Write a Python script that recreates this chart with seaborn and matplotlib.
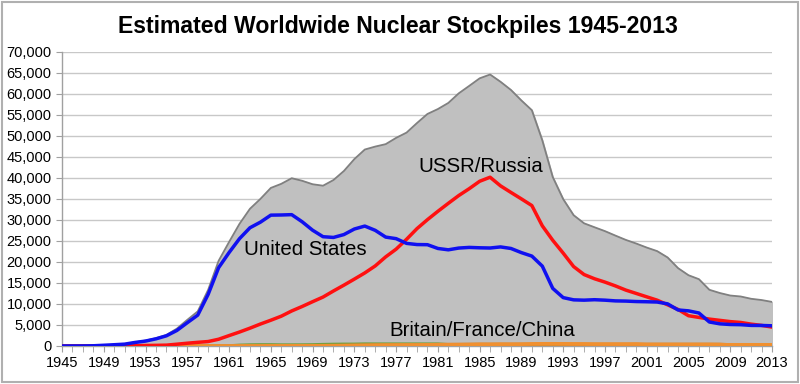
import pandas as pd
import matplotlib
matplotlib.use("Agg")
import matplotlib.pyplot as plt
from matplotlib.ticker import FuncFormatter, MultipleLocator
from matplotlib.patches import Rectangle
import seaborn as sns

# 연도 1945-2013
years = list(range(1945, 2014))

us = [2, 9, 13, 50, 170, 299, 438, 841, 1169, 1703,
      2422, 3692, 5543, 7345, 12298, 18638, 22229, 25540, 28133, 29463,
      31139, 31175, 31255, 29561, 27552, 26008, 25830, 26516, 27835, 28537,
      27519, 25914, 25542, 24418, 24138, 24104, 23208, 22886, 23305, 23459,
      23368, 23317, 23575, 23205, 22217, 21392, 19008, 13708, 11511, 10979,
      10904, 11011, 10903, 10732, 10685, 10577, 10526, 10457, 10027, 8570,
      8360, 7853, 5709, 5273, 5113, 5066, 4897, 4881, 4804]

ussr = [0, 0, 0, 0, 1, 5, 25, 50, 120, 150,
        200, 426, 660, 869, 1060, 1605, 2471, 3322, 4238, 5221,
        6129, 7089, 8339, 9399, 10538, 11643, 13092, 14478, 15915, 17385,
        19055, 21205, 23044, 25393, 27935, 30062, 32049, 33952, 35804, 37431,
        39197, 40159, 38107, 36538, 35000, 33417, 28595, 25155, 22101, 18900,
        17000, 16000, 15200, 14300, 13300, 12500, 11700, 10900, 9800, 8700,
        7200, 6800, 6400, 6100, 5800, 5600, 5200, 4900, 4500]

uk = [0, 0, 0, 0, 0, 0, 0, 0, 1, 5,
      10, 15, 20, 22, 25, 30, 50, 205, 280, 310,
      310, 270, 270, 280, 308, 375, 420, 450, 450, 500,
      492, 492, 492, 492, 492, 492, 492, 335, 320, 270,
      300, 300, 300, 300, 300, 300, 300, 300, 300, 250,
      300, 300, 280, 281, 281, 281, 280, 280, 280, 280,
      280, 225, 225, 225, 225, 225, 225, 225, 225]

france = [0, 0, 0, 0, 0, 0, 0, 0, 0, 0,
          0, 0, 0, 0, 0, 0, 0, 0, 0, 4,
          32, 36, 36, 36, 36, 36, 45, 70, 116, 145,
          188, 212, 228, 235, 235, 250, 274, 274, 279, 280,
          360, 355, 420, 410, 410, 505, 540, 540, 525, 510,
          500, 450, 450, 450, 450, 470, 350, 350, 350, 350,
          350, 350, 350, 300, 300, 300, 300, 300, 300]

china = [0, 0, 0, 0, 0, 0, 0, 0, 0, 0,
         0, 0, 0, 0, 0, 0, 0, 0, 0, 1,
         5, 20, 25, 35, 50, 75, 100, 130, 150, 170,
         185, 190, 200, 220, 235, 280, 330, 360, 380, 414,
         426, 423, 415, 411, 433, 430, 435, 435, 435, 400,
         400, 400, 400, 400, 400, 400, 400, 400, 400, 400,
         400, 400, 400, 400, 240, 240, 240, 240, 250]

# 이스라엘/인도/파키스탄/북한 (회색 영역에만 포함)
others = [0, 0, 0, 0, 0, 0, 0, 0, 0, 0,
          0, 0, 0, 0, 0, 0, 0, 0, 0, 0,
          0, 0, 2, 4, 6, 8, 10, 12, 14, 16,
          18, 20, 22, 25, 28, 31, 34, 37, 40, 44,
          48, 52, 56, 60, 63, 66, 70, 75, 80, 85,
          90, 95, 100, 110, 130, 150, 170, 190, 210, 230,
          250, 270, 290, 310, 330, 350, 370, 390, 410]

df = pd.DataFrame({"year": years, "us": us, "ussr": ussr, "uk": uk,
                   "france": france, "china": china, "others": others})
df["total"] = df[["us", "ussr", "uk", "france", "china", "others"]].sum(axis=1)

sns.set_style("white")
plt.rcParams["font.family"] = ["Liberation Sans", "DejaVu Sans"]
plt.rcParams["text.color"] = "black"
plt.rcParams["xtick.color"] = "black"
plt.rcParams["ytick.color"] = "black"

fig = plt.figure(figsize=(8, 3.84), dpi=100)
ax = fig.add_axes([0.0775, 0.099, 0.8875, 0.766])

# 그리드
for v in range(5000, 70001, 5000):
    ax.axhline(v, color="#c8c8c8", lw=1.0, zorder=0)

ax.fill_between(df["year"], df["total"], color="#c0c0c0", zorder=1)
sns.lineplot(data=df, x="year", y="total", color="#808080", lw=1.3, ax=ax, zorder=2)
sns.lineplot(data=df, x="year", y="uk", color="#70a040", lw=2.2, ax=ax, zorder=3)
sns.lineplot(data=df, x="year", y="china", color="#e08a30", lw=2.5, ax=ax, zorder=3)
sns.lineplot(data=df, x="year", y="france", color="#f09030", lw=2.5, ax=ax, zorder=3)
sns.lineplot(data=df, x="year", y="ussr", color="#ff1010", lw=2.5, ax=ax, zorder=4)
sns.lineplot(data=df, x="year", y="us", color="#1010f0", lw=2.5, ax=ax, zorder=5)

ax.text(1962.4, 22900, "United States", fontsize=14.7, va="center", ha="left", zorder=6)
ax.text(1979.1, 42600, "USSR/Russia", fontsize=14.7, va="center", ha="left", zorder=6)
ax.text(1976.4, 3800, "Britain/France/China", fontsize=14.7, va="center", ha="left", zorder=6)

ax.set_xlim(1945, 2013)
ax.set_ylim(0, 70000)
ax.set_xlabel("")
ax.set_ylabel("")
ax.set_xticks(range(1945, 2014, 4))
ax.xaxis.set_minor_locator(MultipleLocator(1))
ax.yaxis.set_major_locator(MultipleLocator(5000))
ax.yaxis.set_major_formatter(FuncFormatter(lambda v, p: f"{int(v):,}"))
ax.tick_params(axis="both", which="major", labelsize=10.5, length=4, color="#a0a0a0",
               labelcolor="black", direction="out", left=True, bottom=True)
ax.tick_params(axis="x", which="minor", length=4, color="#a0a0a0", direction="out", bottom=True)

for side in ["top", "right"]:
    ax.spines[side].set_visible(False)
for side in ["left", "bottom"]:
    ax.spines[side].set_color("#a0a0a0")
    ax.spines[side].set_linewidth(1)

fig.text(0.498, 0.93, "Estimated Worldwide Nuclear Stockpiles 1945-2013",
         ha="center", va="center", fontsize=16.6, fontweight="bold", color="black")

fig.patches.append(Rectangle((0.003, 0.005), 0.994, 0.99, transform=fig.transFigure,
                             fill=False, edgecolor="#b0b0b0", lw=1.5))

fig.savefig("out.png", dpi=100)
